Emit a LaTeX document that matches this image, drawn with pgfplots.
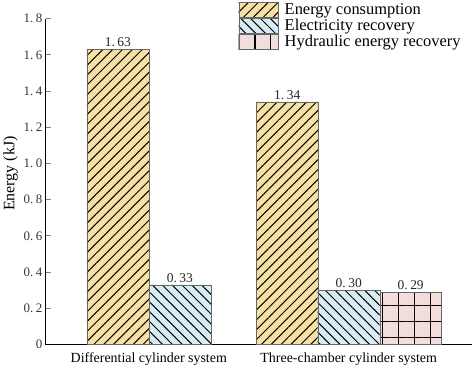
\documentclass[border=0pt]{standalone}
\usepackage{pgfplots}
\pgfplotsset{compat=1.18}
\usepackage{fontspec}
\setmainfont{Liberation Serif}
\usetikzlibrary{patterns.meta}
\definecolor{ecfill}{HTML}{F6E0A4}
\definecolor{erfill}{HTML}{D8ECF4}
\definecolor{hrfill}{HTML}{F3DCDC}
\begin{document}
\begin{tikzpicture}
\begin{axis}[
  scale only axis,
  width=426bp, height=326bp,
  xmin=46, xmax=472,
  ymin=0, ymax=1.8,
  axis lines*=left,
  axis line style={line width=1pt},
  ytick={0,0.2,...,1.8},
  yticklabels={0,0.\hspace{2.5pt}2,0.\hspace{2.5pt}4,0.\hspace{2.5pt}6,0.\hspace{2.5pt}8,1.\hspace{2.5pt}0,1.\hspace{2.5pt}2,1.\hspace{2.5pt}4,1.\hspace{2.5pt}6,1.\hspace{2.5pt}8},
  tick align=inside,
  major tick length=5pt,
  ytick style={line width=1pt},
  xtick={149,349},
  xticklabels={Differential cylinder system, Three-chamber cylinder system},
  xtick style={draw=none},
  extra x ticks={472},
  extra x tick labels={},
  extra x tick style={tick style={draw=black,line width=1pt}},
  ylabel={Energy (kJ)},
  ylabel style={font=\fontsize{16}{18}\selectfont, yshift=-1pt, xshift=8pt},
  yticklabel style={font=\fontsize{13}{14}\selectfont, text=black!80},
  xticklabel style={font=\fontsize{14}{16}\selectfont},
  ybar, bar shift=0pt, bar width=62,
  nodes near coords,
  point meta=explicit symbolic,
  nodes near coords style={font=\fontsize{13.5}{14}\selectfont, text=black!85, yshift=-1pt},
  legend style={draw=none, fill=none, at={(0.445,1.058)}, anchor=north west,
    font=\fontsize{16.5}{17}\selectfont, row sep=0pt,
    cells={anchor=west, text height=10.5pt, text depth=2.5pt, inner ysep=0.5pt},
    /tikz/every odd column/.append style={column sep=4pt}},
  legend image code/.code={
    \draw[#1] (0pt,-7.5pt) rectangle (40pt,7.5pt);
  },
  clip=false,
]
\addplot[draw=black!60, fill=ecfill, postaction={pattern={Lines[angle=45,distance=7pt,line width=1pt]}, pattern color=black}]
  coordinates {(118,1.63) [1.\hspace{2.5pt}63] (287.5,1.34) [1.\hspace{2.5pt}34]};
\addlegendentry{Energy consumption}
\addplot[draw=black!60, fill=erfill, postaction={pattern={Lines[angle=-45,distance=7pt,line width=1pt]}, pattern color=black}]
  coordinates {(180,0.33) [0.\hspace{2.5pt}33] (349,0.30) [0.\hspace{2.5pt}30]};
\addlegendentry{Electricity recovery}
\addplot[draw=black!60, fill=hrfill, postaction={pattern={Hatch[angle=0,distance=16pt,line width=1.2pt]}, pattern color=black}]
  coordinates {(411,0.29) [0.\hspace{2.5pt}29]};
\addlegendentry{Hydraulic energy recovery}
\end{axis}
\end{tikzpicture}
\end{document}
